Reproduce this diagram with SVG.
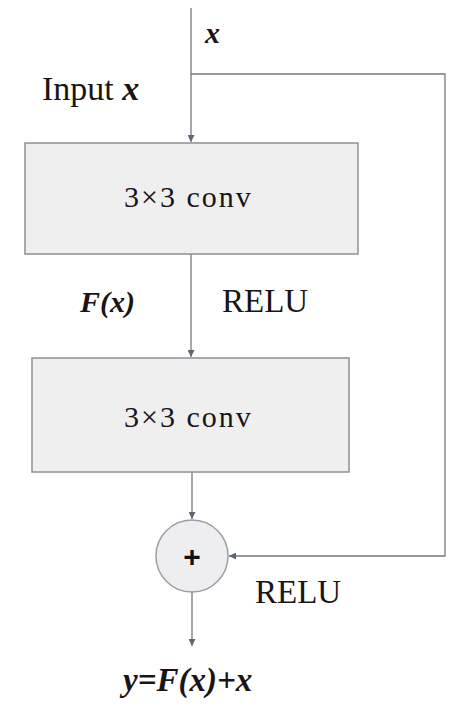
<svg xmlns="http://www.w3.org/2000/svg" width="472" height="712" viewBox="0 0 472 712">
<style>
.box{fill:#efeff0;stroke:#8c9096;stroke-width:1.5}
.line{fill:none;stroke:#737980;stroke-width:1.3}
.t{font-family:'Liberation Serif',serif;fill:#1a1414}
.i{font-style:italic;font-weight:bold}
</style>
<defs>
<marker id="ah" viewBox="0 0 10 10" refX="10" refY="5" markerWidth="7" markerHeight="7" markerUnits="userSpaceOnUse" orient="auto">
<path d="M0,0 L10,5 L0,10 z" fill="#5d6773"/>
</marker>
</defs>
<rect width="472" height="712" fill="#ffffff"/>
<g id="connectors">
<line class="line" x1="191" y1="8" x2="191" y2="142" marker-end="url(#ah)"/>
<polyline class="line" points="191,74 445,74 445,556 229,556" marker-end="url(#ah)"/>
<line class="line" x1="191" y1="254" x2="191" y2="357" marker-end="url(#ah)"/>
<line class="line" x1="192" y1="472" x2="192" y2="519" marker-end="url(#ah)"/>
<line class="line" x1="192" y1="592" x2="192" y2="646" marker-end="url(#ah)"/>
</g>
<g id="conv1">
<rect class="box" x="25" y="143" width="333" height="111"/>
<text class="t" x="124" y="207" font-size="30" letter-spacing="2">3×3 conv</text>
</g>
<g id="conv2">
<rect class="box" x="32" y="358" width="317" height="114"/>
<text class="t" x="124" y="427" font-size="30" letter-spacing="2">3×3 conv</text>
</g>
<g id="add">
<circle cx="192" cy="556" r="36" fill="#eeeef1" stroke="#9a9ea4" stroke-width="1.5"/>
<text x="192" y="567" font-family="'Liberation Sans', sans-serif" font-weight="bold" font-size="30" text-anchor="middle" fill="#111">+</text>
</g>
<g id="labels">
<text class="t i" x="205" y="43" font-size="30">x</text>
<text class="t" x="42" y="100" font-size="34">Input <tspan class="i">x</tspan></text>
<text class="t i" x="80" y="312" font-size="30">F(x)</text>
<text class="t" x="222" y="312" font-size="33">RELU</text>
<text class="t" x="255" y="603" font-size="33">RELU</text>
<text class="t i" x="123" y="691" font-size="33">y=F(x)+x</text>
</g>
</svg>
